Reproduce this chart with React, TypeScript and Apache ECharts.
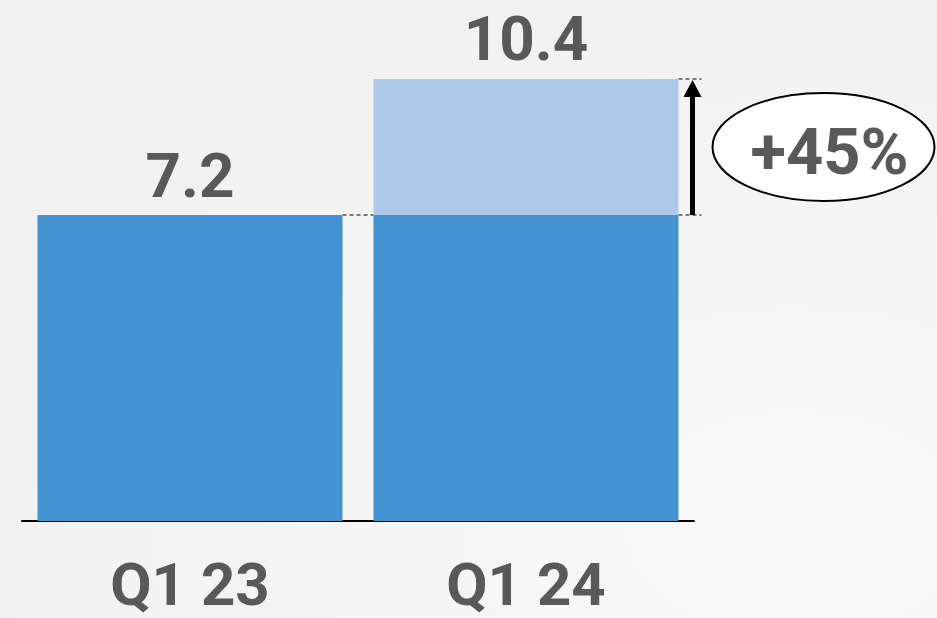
import React, { useEffect, useRef } from "react";
import * as echarts from "echarts";

const categories = ["Q1 23", "Q1 24"];
const totals = [7.2, 10.4];
const changeLabel = "+45%";

const baseValues = [totals[0], totals[0]];
const increaseValues = [null, +(totals[1] - totals[0]).toFixed(1)];

const DARK = "#4592d2";
const LIGHT = "#adc8e8";
const TEXT = "#595959";
const FONT = "Roboto, 'Noto Sans', sans-serif";
const BAR_W = 305;

export default function App() {
  const ref = useRef<HTMLDivElement>(null);
  useEffect(() => {
    document.body.style.margin = "0";
    const chart = echarts.init(ref.current!, null, { renderer: "svg" });
    const labelStyle = {
      fontSize: 62,
      fontWeight: "bold" as const,
      color: TEXT,
      fontFamily: FONT,
    };
    chart.setOption({
      animation: false,
      backgroundColor: {
        type: "radial",
        x: 0.85,
        y: 0.85,
        r: 0.9,
        colorStops: [
          { offset: 0, color: "#f9f9f9" },
          { offset: 1, color: "#f1f1f1" },
        ],
      },
      grid: { left: 22, right: 243, top: 11, bottom: 97, containLabel: false },
      xAxis: {
        type: "category",
        data: categories,
        axisLine: { lineStyle: { color: "#000", width: 2 } },
        axisTick: { show: false },
        axisLabel: { ...labelStyle, fontSize: 60, lineHeight: 48, margin: 39 },
      },
      yAxis: {
        type: "value",
        min: 0,
        max: 12,
        show: false,
        splitLine: { show: false },
      },
      series: [
        {
          type: "bar",
          stack: "s",
          barWidth: BAR_W,
          itemStyle: { color: DARK },
          data: baseValues.map((v, i) => ({
            value: v,
            label: {
              show: i === 0,
              position: "top",
              distance: 9,
              formatter: () => String(totals[i]),
              ...labelStyle,
            },
          })),
        },
        {
          type: "bar",
          stack: "s",
          barWidth: BAR_W,
          itemStyle: { color: LIGHT },
          data: increaseValues.map((v, i) => ({
            value: v,
            label: {
              show: v != null,
              position: "top",
              distance: 10,
              formatter: () => String(totals[i]),
              ...labelStyle,
            },
          })),
        },
      ],
    });

    const p0 = chart.convertToPixel({ gridIndex: 0 }, [0, totals[0]]) as number[];
    const p1 = chart.convertToPixel({ gridIndex: 0 }, [1, totals[1]]) as number[];
    const yBase = p0[1];
    const yTop = p1[1];
    const bar1Right = p0[0] + BAR_W / 2;
    const bar2Left = p1[0] - BAR_W / 2;
    const bar2Right = p1[0] + BAR_W / 2;
    const arrowX = bar2Right + 14;
    const dash = { stroke: "#000", lineWidth: 1.2, lineDash: [4, 3] };
    const midY = (yBase + yTop) / 2;
    const ecx = arrowX + 131;

    chart.setOption({
      graphic: [
        { type: "line", shape: { x1: bar1Right, y1: yBase, x2: bar2Left, y2: yBase }, style: dash },
        { type: "line", shape: { x1: bar2Right, y1: yBase, x2: bar2Right + 23, y2: yBase }, style: dash },
        { type: "line", shape: { x1: bar2Right, y1: yTop, x2: bar2Right + 23, y2: yTop }, style: dash },
        { type: "line", shape: { x1: arrowX, y1: yBase, x2: arrowX, y2: yTop + 14 }, style: { stroke: "#000", lineWidth: 5 } },
        {
          type: "polygon",
          shape: { points: [[arrowX, yTop + 1], [arrowX - 9, yTop + 18], [arrowX + 9, yTop + 18]] },
          style: { fill: "#000" },
        },
        {
          type: "ellipse",
          shape: { cx: ecx, cy: midY, rx: 111, ry: 54 },
          style: { fill: "#fff", stroke: "#000", lineWidth: 2 },
        },
        {
          type: "text",
          x: ecx + 6,
          y: midY + 5,
          style: {
            text: changeLabel,
            fontSize: 65,
            fontWeight: "bold",
            fontFamily: FONT,
            fill: TEXT,
            align: "center",
            verticalAlign: "middle",
          },
        },
      ],
    });
    return () => chart.dispose();
  }, []);
  return <div ref={ref} style={{ position: "absolute", left: 0, top: 0, width: 937, height: 618 }} />;
}
